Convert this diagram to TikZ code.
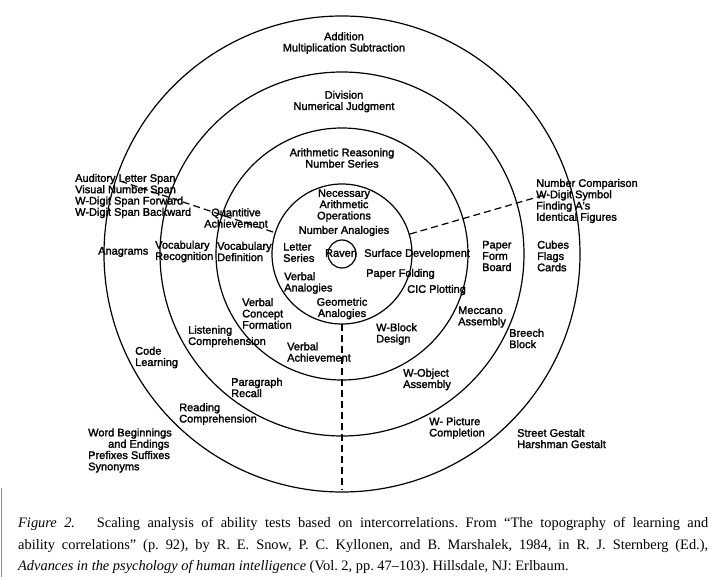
\documentclass[tikz,border=0pt]{standalone}
\usepackage{fontspec}
\setmainfont{Liberation Serif}
\newfontfamily\labelfont[FakeBold=1.8]{Liberation Sans}
\usepackage{tikz}
\usetikzlibrary{positioning}
\definecolor{edgegray}{HTML}{8A8A8A}
\frenchspacing

\begin{document}
\begin{tikzpicture}[x=1pt, y=-1pt, every node/.style={font=\labelfont\fontsize{11}{11.3}\selectfont, inner sep=0pt, align=left},
    ring/.style={line width=1.2pt}, split/.style={line width=1.2pt, dash pattern=on 7pt off 4pt}]
    \useasboundingbox (0,0) rectangle (720,577);
    \coordinate (ctr) at (342,254);

    % rings
    \draw[ring] (ctr) circle[radius=14pt];
    \draw[ring] (ctr) circle[radius=70pt];
    \draw[ring] (ctr) circle[radius=126pt];
    \draw[ring] (ctr) circle[radius=182pt];
    \draw[ring] (ctr) circle[radius=238pt];

    % centre and top
    \node[align=center] (raven) at (341,253) {Raven};
    \node[align=center] (addition) at (344,43) {Addition\\Multiplication Subtraction};
    \node[align=center] (division) at (344,101.5) {Division\\Numerical Judgment};
    \node[align=center] (arithreason) at (342,158) {Arithmetic Reasoning\\Number Series};
    \node[align=center] (necessary) at (344,205.5) {Necessary\\Arithmetic\\Operations};
    \node[align=center] (numanalog) at (344,231) {Number Analogies};
    \node[align=center] (geometric) at (342,308.5) {Geometric\\Analogies};
    \node[anchor=west] (letter) at (283,252.5) {Letter\\Series};
    \node[anchor=west] (verbalanalog) at (284,283) {Verbal\\Analogies};

    % figural side
    \node[anchor=west] (surface) at (364,254) {Surface Development};
    \node[anchor=west] (paperfold) at (366,274) {Paper Folding};
    \node[anchor=west] (cic) at (407,290) {CIC Plotting};
    \node[anchor=west] (paperform) at (482,256) {Paper\\Form\\Board};
    \node[anchor=west] (cubes) at (537,256) {Cubes\\Flags\\Cards};
    \node[anchor=west] (numcompare) at (536,201) {Number Comparison\\W-Digit Symbol\\Finding A's\\Identical Figures};
    \node[anchor=west] (wblock) at (376,334) {W-Block\\Design};
    \node[anchor=west] (meccano) at (458,317) {Meccano\\Assembly};
    \node[anchor=west] (breech) at (509,338.5) {Breech\\Block};
    \node[anchor=west] (wobject) at (403,379.5) {W-Object\\Assembly};
    \node[anchor=west] (wpicture) at (429,428) {W- Picture\\Completion};
    \node[anchor=west] (gestalt) at (517,438.5) {Street Gestalt\\Harshman Gestalt};

    % verbal side
    \node[align=center] (quantach) at (236,218) {Quantitive\\Achievement};
    \node[anchor=west] (spans) at (75,196) {Auditory Letter Span\\Visual Number Span\\W-Digit Span Forward\\W-Digit Span Backward};
    \node[anchor=west] (anagrams) at (98,252) {Anagrams};
    \node[anchor=west] (vocabrec) at (155,251.5) {Vocabulary\\Recognition};
    \node[anchor=west] (vocabdef) at (217,251.5) {Vocabulary\\Definition};
    \node[anchor=west] (vconcept) at (242,313.5) {Verbal\\Concept\\Formation};
    \node[anchor=west] (listening) at (188,336.5) {Listening\\Comprehension};
    \node[anchor=west] (vachieve) at (287,352) {Verbal\\Achievement};
    \node[anchor=west] (code) at (135,357.5) {Code\\Learning};
    \node[anchor=west] (paragraph) at (231,387.5) {Paragraph\\Recall};
    \node[anchor=west] (reading) at (179,414) {Reading\\Comprehension};
    \node[anchor=west] (wordbegin) at (88,450.5) {Word Beginnings\\\hphantom{Wor}and Endings\\Prefixes Suffixes\\Synonyms};

    % dashed sector lines
    \coordinate (leftin) at (273,232);
    \coordinate (leftout) at (117,180);
    \coordinate (rightin) at (410,234);
    \coordinate (rightout) at (548,194);
    \coordinate (lowin) at (342,324);
    \coordinate (lowout) at (342,490);
    \draw[split] (leftin) -- (leftout);
    \draw[split] (rightin) -- (rightout);
    \draw[split] (lowin) -- (lowout);

    % caption
    \coordinate (rimtop) at (1,488);
    \coordinate (rimbot) at (1,577);
    \draw[edgegray, line width=1pt] (rimtop) -- (rimbot);
    \node[font=\rmfamily\fontsize{14.4}{16}\selectfont, anchor=base west] (cap1) at (18,527) {\makebox[690pt][s]{\textit{Figure 2.}\quad\ Scaling analysis of ability tests based on intercorrelations. From “The topography of learning and}};
    \node[font=\rmfamily\fontsize{14.4}{16}\selectfont, anchor=base west] (cap2) at (18,549) {\makebox[690pt][s]{ability correlations” (p. 92), by R. E. Snow, P. C. Kyllonen, and B. Marshalek, 1984, in R. J. Sternberg (Ed.),}};
    \node[font=\rmfamily\fontsize{14.4}{16}\selectfont, anchor=base west] (cap3) at (18,570) {\textit{Advances in the psychology of human intelligence} (Vol. 2, pp. 47–103). Hillsdale, NJ: Erlbaum.};
\end{tikzpicture}
\end{document}
